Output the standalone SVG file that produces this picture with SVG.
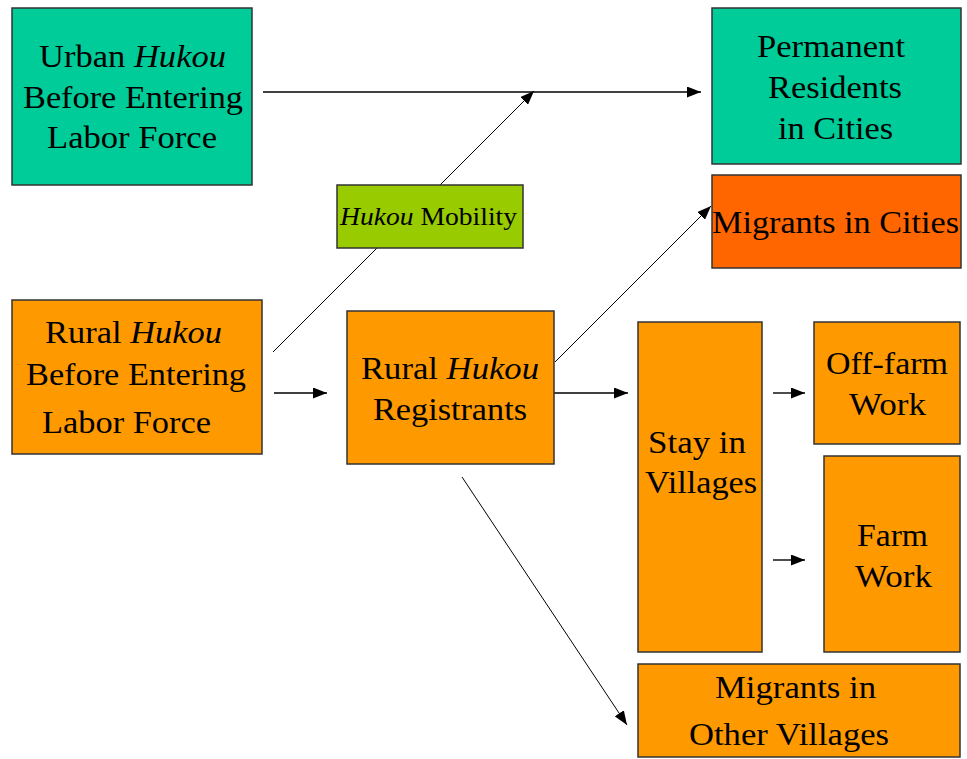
<svg xmlns="http://www.w3.org/2000/svg" width="967" height="759" viewBox="0 0 967 759">
<style>
.box{stroke:#333;stroke-width:1.5}
.teal{fill:#00CC99}
.orange{fill:#FF9900}
.red{fill:#FF6600}
.green{fill:#99CC00}
text{font-family:"Liberation Serif","Times New Roman",serif;font-size:32px;fill:#000}
.sm{font-size:26px}
.it{font-style:italic}
.conn{stroke:#000;fill:none}
.h{stroke-width:1.4}
.d{stroke-width:1}
</style>
<defs>
<marker id="ah" markerUnits="userSpaceOnUse" markerWidth="15" markerHeight="11" refX="14" refY="5.5" orient="auto">
<path d="M0,0 L14,5.5 L0,11 z" fill="#000"/>
</marker>
</defs>
<g id="connectors">
<line class="conn h" x1="263" y1="92" x2="701" y2="92" marker-end="url(#ah)"/>
<line class="conn d" x1="273" y1="352" x2="534" y2="91" marker-end="url(#ah)"/>
<line class="conn d" x1="555" y1="362" x2="711" y2="206" marker-end="url(#ah)"/>
<line class="conn h" x1="274" y1="393" x2="327" y2="393" marker-end="url(#ah)"/>
<line class="conn h" x1="554" y1="393" x2="628" y2="393" marker-end="url(#ah)"/>
<line class="conn h" x1="773" y1="393" x2="805" y2="393" marker-end="url(#ah)"/>
<line class="conn h" x1="773" y1="560" x2="805" y2="560" marker-end="url(#ah)"/>
<line class="conn d" x1="462" y1="477" x2="627" y2="725" marker-end="url(#ah)"/>
</g>
<g id="urban">
<rect class="box teal" x="12" y="8" width="240" height="177"/>
<text x="39" y="67" textLength="187" lengthAdjust="spacingAndGlyphs">Urban <tspan class="it">Hukou</tspan></text>
<text x="23" y="108" textLength="220" lengthAdjust="spacingAndGlyphs">Before Entering</text>
<text x="47" y="148" textLength="170" lengthAdjust="spacingAndGlyphs">Labor Force</text>
</g>
<g id="permanent">
<rect class="box teal" x="712" y="8" width="249" height="156"/>
<text x="757" y="57" textLength="148" lengthAdjust="spacingAndGlyphs">Permanent</text>
<text x="768" y="98" textLength="134" lengthAdjust="spacingAndGlyphs">Residents</text>
<text x="778" y="139" textLength="115" lengthAdjust="spacingAndGlyphs">in Cities</text>
</g>
<g id="migrants-cities">
<rect class="box red" x="712" y="175" width="249" height="93"/>
<text x="712" y="233" textLength="247" lengthAdjust="spacingAndGlyphs">Migrants in Cities</text>
</g>
<g id="hukou-mobility">
<rect class="box green" x="337" y="185" width="186" height="63"/>
<text class="sm" x="340" y="225" textLength="177" lengthAdjust="spacingAndGlyphs"><tspan class="it">Hukou</tspan> Mobility</text>
</g>
<g id="rural">
<rect class="box orange" x="12" y="300" width="250" height="154"/>
<text x="45" y="343" textLength="177" lengthAdjust="spacingAndGlyphs">Rural <tspan class="it">Hukou</tspan></text>
<text x="26" y="385" textLength="220" lengthAdjust="spacingAndGlyphs">Before Entering</text>
<text x="42" y="433" textLength="169" lengthAdjust="spacingAndGlyphs">Labor Force</text>
</g>
<g id="registrants">
<rect class="box orange" x="347" y="311" width="207" height="153"/>
<text x="361" y="379" textLength="178" lengthAdjust="spacingAndGlyphs">Rural <tspan class="it">Hukou</tspan></text>
<text x="373" y="420" textLength="154" lengthAdjust="spacingAndGlyphs">Registrants</text>
</g>
<g id="stay">
<rect class="box orange" x="638" y="322" width="124" height="330"/>
<text x="648" y="453" textLength="98" lengthAdjust="spacingAndGlyphs">Stay in</text>
<text x="645" y="493" textLength="112" lengthAdjust="spacingAndGlyphs">Villages</text>
</g>
<g id="off-farm">
<rect class="box orange" x="814" y="322" width="146" height="122"/>
<text x="826" y="374" textLength="122" lengthAdjust="spacingAndGlyphs">Off-farm</text>
<text x="849" y="415" textLength="77" lengthAdjust="spacingAndGlyphs">Work</text>
</g>
<g id="farm">
<rect class="box orange" x="824" y="456" width="136" height="196"/>
<text x="857" y="546" textLength="71" lengthAdjust="spacingAndGlyphs">Farm</text>
<text x="855" y="587" textLength="77" lengthAdjust="spacingAndGlyphs">Work</text>
</g>
<g id="migrants-villages">
<rect class="box orange" x="638" y="664" width="322" height="93"/>
<text x="715" y="698" textLength="161" lengthAdjust="spacingAndGlyphs">Migrants in</text>
<text x="689" y="745" textLength="200" lengthAdjust="spacingAndGlyphs">Other Villages</text>
</g>
</svg>
